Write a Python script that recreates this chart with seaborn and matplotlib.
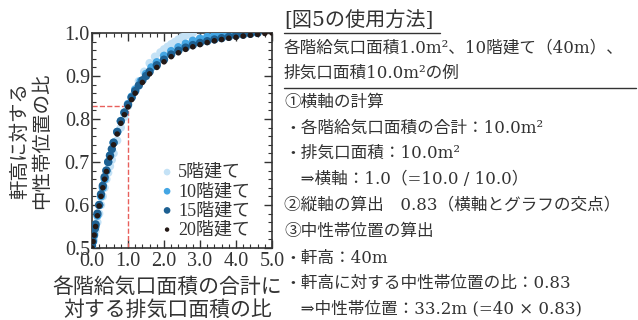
import matplotlib
matplotlib.use("Agg")
import matplotlib.pyplot as plt
import seaborn as sns
import pandas as pd
from matplotlib.ticker import MultipleLocator
from matplotlib.lines import Line2D

# data
x5 = [0.0, 0.05, 0.1, 0.15, 0.2, 0.25, 0.3, 0.35, 0.4, 0.45, 0.5, 0.55, 0.6, 0.7, 0.8, 0.9, 1.0,
      1.1, 1.2, 1.3, 1.45, 1.6, 1.75, 1.9, 2.0, 2.1, 2.2, 2.3, 2.4, 2.5, 2.6, 2.7, 2.8]
y5 = [0.5, 0.52, 0.54, 0.56, 0.58, 0.6, 0.62, 0.64, 0.66, 0.675, 0.69, 0.705, 0.72, 0.75, 0.78, 0.805, 0.83,
      0.85, 0.87, 0.888, 0.91, 0.93, 0.945, 0.955, 0.962, 0.968, 0.974, 0.979, 0.985, 0.99, 0.994, 0.997, 1.0]
x10 = [0.0, 0.03, 0.06, 0.1, 0.15, 0.2, 0.25, 0.3, 0.35, 0.4, 0.45, 0.5, 0.6, 0.7, 0.8, 0.9, 1.0,
       1.1, 1.2, 1.35, 1.5, 1.65, 1.8, 2.0, 2.2, 2.4, 2.6, 2.8, 3.0, 3.2, 3.4, 3.6, 3.8]
y10 = [0.5, 0.515, 0.53, 0.55, 0.575, 0.6, 0.62, 0.64, 0.66, 0.68, 0.7, 0.715, 0.745, 0.77, 0.795, 0.815, 0.835,
       0.852, 0.868, 0.888, 0.905, 0.92, 0.932, 0.947, 0.958, 0.967, 0.975, 0.982, 0.987, 0.991, 0.995, 0.998, 1.0]
x15 = [0.0, 0.02, 0.05, 0.08, 0.1, 0.15, 0.2, 0.25, 0.3, 0.35, 0.4, 0.45, 0.5, 0.55, 0.6, 0.7, 0.8, 0.9, 1.0,
       1.1, 1.2, 1.3, 1.4, 1.5, 1.6, 1.8, 2.0, 2.2, 2.4, 2.6, 2.8, 3.0, 3.2, 3.4, 3.6, 3.8, 4.0, 4.2, 4.4, 4.6]
y15 = [0.505, 0.515, 0.53, 0.545, 0.555, 0.58, 0.6, 0.625, 0.645, 0.665, 0.68, 0.7, 0.715, 0.73, 0.745, 0.77,
       0.795, 0.815, 0.833, 0.85, 0.865, 0.878, 0.89, 0.9, 0.91, 0.925, 0.938, 0.95, 0.959, 0.966, 0.972, 0.977,
       0.981, 0.985, 0.988, 0.991, 0.994, 0.996, 0.998, 1.0]
x20 = [0.0, 0.03, 0.06, 0.1, 0.15, 0.2, 0.25, 0.3, 0.35, 0.4, 0.5, 0.6, 0.7, 0.8, 0.9, 1.0, 1.1, 1.2, 1.4,
       1.6, 1.8, 2.0, 2.2, 2.4, 2.6, 2.8, 3.0, 3.2, 3.4, 3.6, 3.8, 4.0, 4.2, 4.4, 4.6, 4.8, 5.0]
y20 = [0.5, 0.515, 0.53, 0.55, 0.575, 0.598, 0.62, 0.64, 0.66, 0.678, 0.71, 0.74, 0.765, 0.79, 0.81, 0.828,
       0.845, 0.86, 0.885, 0.905, 0.92, 0.933, 0.945, 0.954, 0.962, 0.968, 0.973, 0.978, 0.982, 0.985, 0.988,
       0.99, 0.993, 0.995, 0.997, 0.999, 1.0]

series_labels = ["5階建て", "10階建て", "15階建て", "20階建て"]
series_colors = ["#c4e2f6", "#44a6e4", "#1d6092", "#231815"]
series_sizes = [36, 36, 36, 16]

example_x = 1.0
example_y = 0.83

note_title = "[図5の使用方法]"
note_lines = [
    "各階給気口面積1.0m²、10階建て（40m）、",
    "排気口面積10.0m²の例",
    "①横軸の計算",
    "・各階給気口面積の合計：10.0m²",
    "・排気口面積：10.0m²",
    "　⇒横軸：1.0（=10.0 / 10.0）",
    "②縦軸の算出　0.83（横軸とグラフの交点）",
    "③中性帯位置の算出",
    "・軒高：40m",
    "・軒高に対する中性帯位置の比：0.83",
    "　⇒中性帯位置：33.2m (=40 × 0.83)",
]

sns.set_theme(style="ticks")
fonts = ["Liberation Serif", "Noto Sans CJK JP", "DejaVu Sans"]
note_fonts = ["DejaVu Serif", "Noto Sans CJK JP", "DejaVu Sans"]
plt.rcParams["font.family"] = fonts
text_color = "#333333"

W, H = 638, 320
fig = plt.figure(figsize=(W / 100, H / 100), dpi=100)
ax = fig.add_axes([92 / W, 1 - 248 / H, 180 / W, 215 / H])

frames = [pd.DataFrame({"x": x, "y": y}) for x, y in [(x5, y5), (x10, y10), (x15, y15), (x20, y20)]]
for df, lab, col, s in zip(frames, series_labels, series_colors, series_sizes):
    sns.scatterplot(data=df, x="x", y="y", color=col, s=s, edgecolor="none", label=lab, ax=ax, zorder=3)

ax.plot([0, example_x], [example_y, example_y], ls="--", color="#e8605c", lw=1.0, zorder=2)
ax.plot([example_x, example_x], [0.5, example_y], ls="--", color="#e8605c", lw=1.0, zorder=2)

ax.set_xlim(0, 5)
ax.set_ylim(0.5, 1.0)
ax.xaxis.set_major_locator(MultipleLocator(1.0))
ax.xaxis.set_minor_locator(MultipleLocator(0.2))
ax.yaxis.set_major_locator(MultipleLocator(0.1))
ax.yaxis.set_minor_locator(MultipleLocator(0.02))
ax.xaxis.set_major_formatter(lambda v, p: f"{v:.1f}")
ax.yaxis.set_major_formatter(lambda v, p: f"{v:.1f}")
ax.tick_params(which="both", direction="in", top=True, right=True, colors=text_color,
               labelsize=14.5)
ax.tick_params(axis="y", pad=1.5)
ax.tick_params(axis="x", pad=3.0)
ax.tick_params(which="major", length=6, width=1.0)
ax.tick_params(which="minor", length=3, width=0.8)
for sp in ax.spines.values():
    sp.set_color(text_color)
    sp.set_linewidth(1.2)

ax.set_xlabel("各階給気口面積の合計に\n対する排気口面積の比", fontsize=15, color=text_color,
              linespacing=1.2)
ax.xaxis.set_label_coords(0.42, -0.14)
ax.set_ylabel("軒高に対する\n中性帯位置の比", fontsize=14, color=text_color,
              linespacing=1.25)
ax.yaxis.set_label_coords(-0.225, 0.5)

leg = ax.legend(loc="lower left", bbox_to_anchor=(0.387, 0.045), frameon=False, fontsize=13,
                handlelength=0.6, handletextpad=0.3, borderaxespad=0, borderpad=0,
                labelspacing=0.12, markerscale=0.8)
for t in leg.get_texts():
    t.set_color(text_color)

# explanatory text on the right
x0 = 284 / W
fig.text(x0, 1 - 20 / H, note_title, fontsize=14.5, color=text_color, va="center", ha="left",
         family=note_fonts)
line_y = [48, 73, 102, 128, 153, 179, 205, 231, 258, 283, 309]
for txt, yy in zip(note_lines, line_y):
    fig.text(x0, 1 - yy / H, txt, fontsize=12, color=text_color, va="center", ha="left",
             family=note_fonts)

fig.add_artist(Line2D([284 / W, 440 / W], [1 - 33 / H, 1 - 33 / H], color=text_color, lw=1.0))
fig.add_artist(Line2D([284 / W, 636 / W], [1 - 88 / H, 1 - 88 / H], color=text_color, lw=1.0))

fig.savefig("out.png", dpi=100)
